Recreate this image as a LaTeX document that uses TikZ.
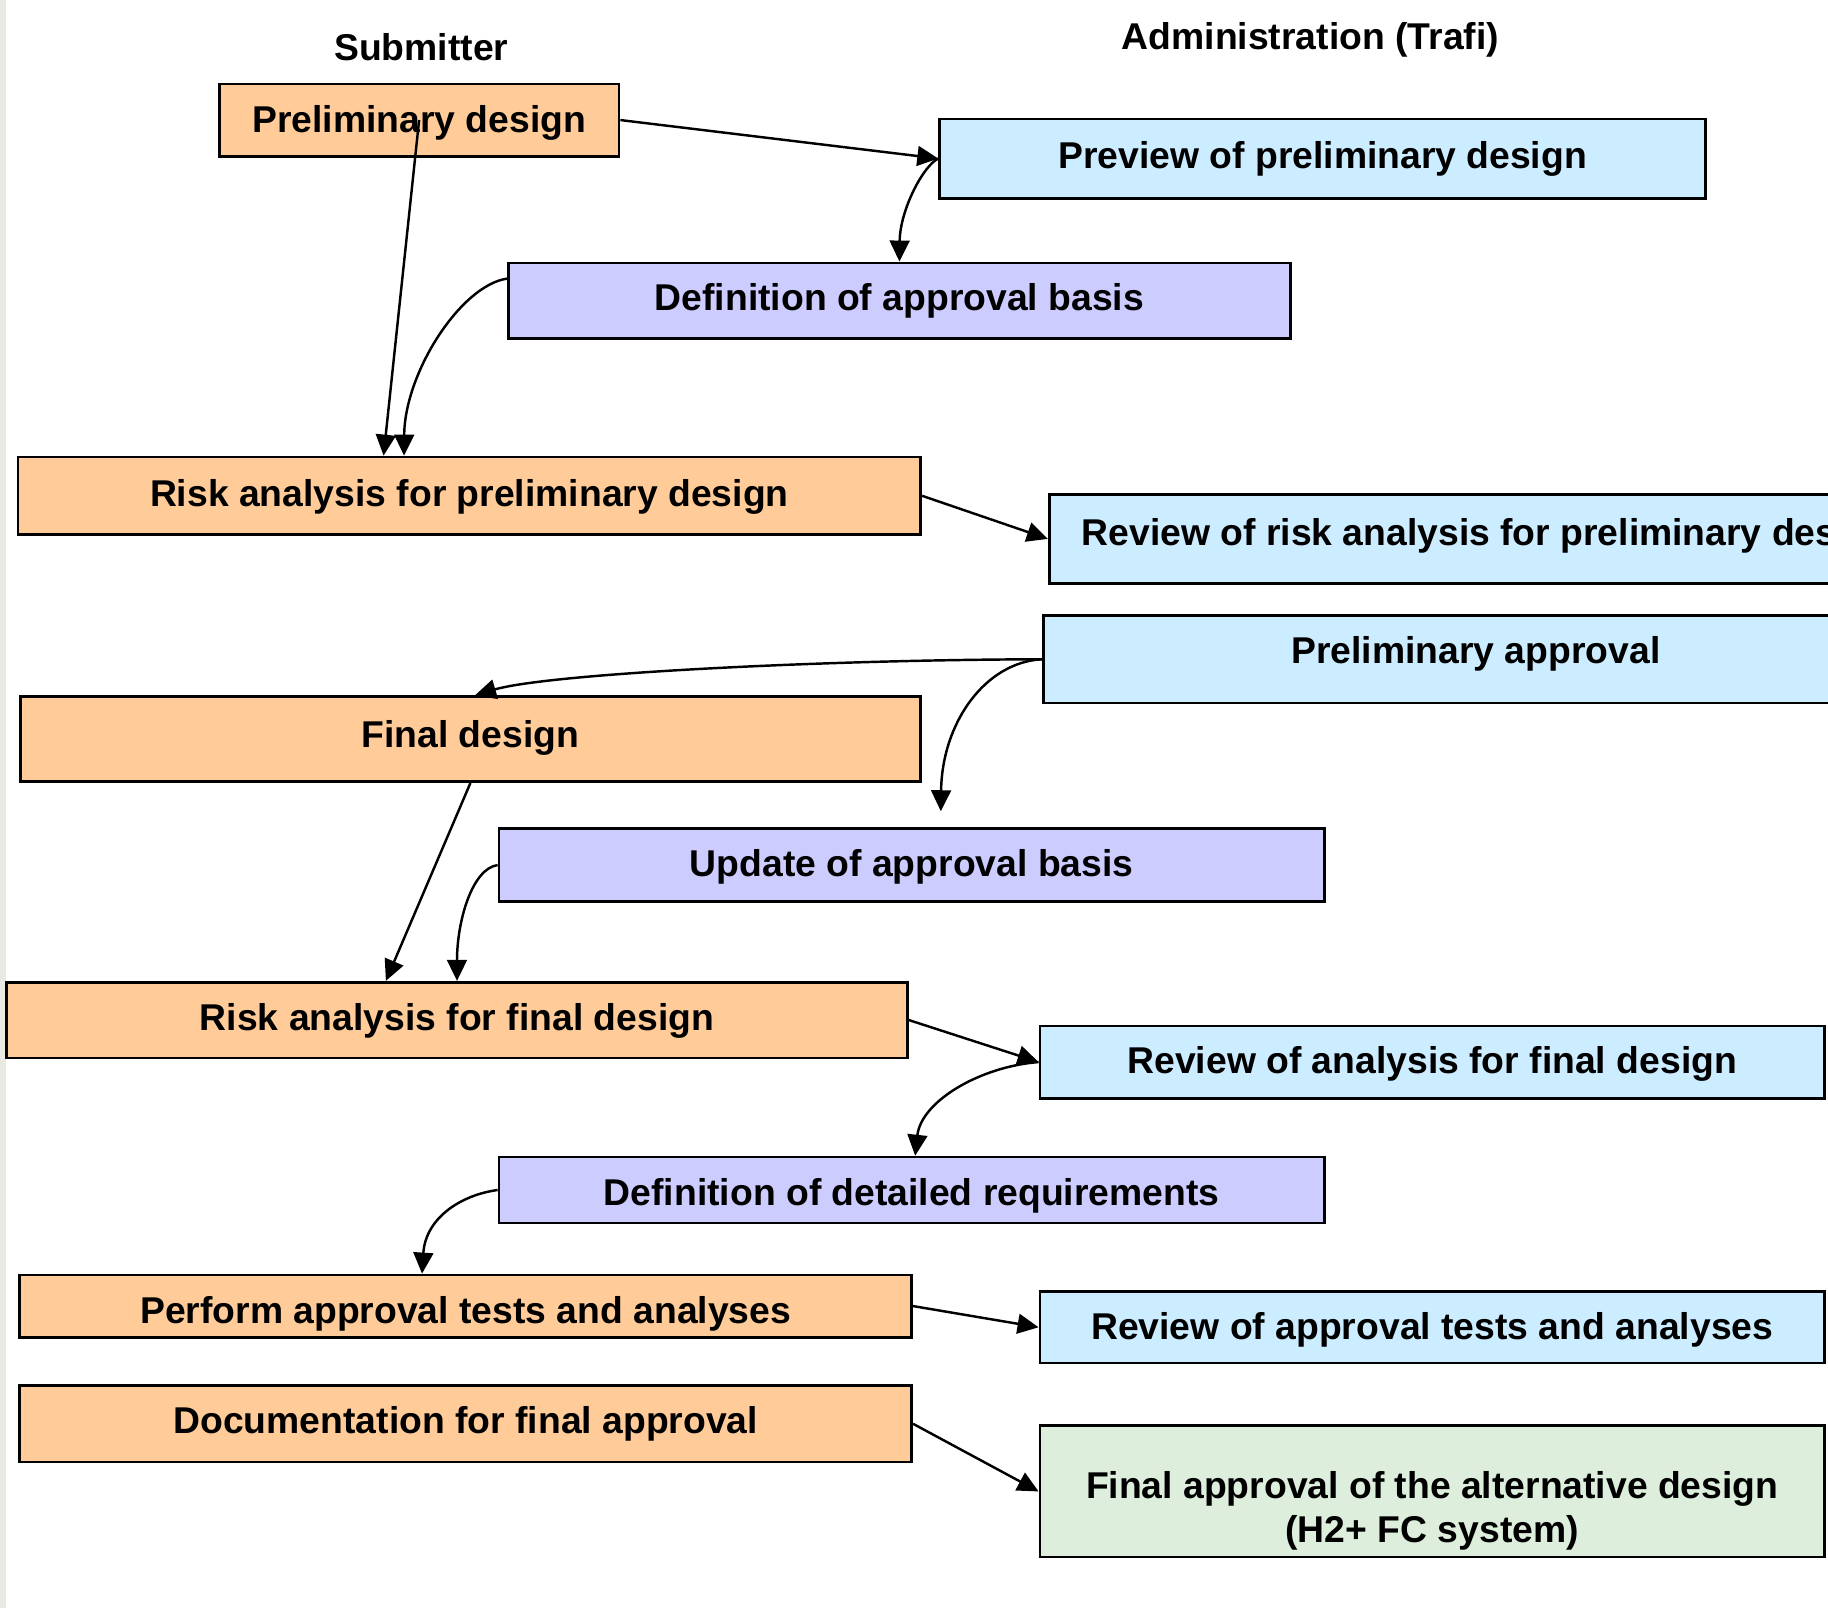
\documentclass[tikz,border=0pt]{standalone}
\usepackage{fontspec}
\setmainfont{Liberation Sans}
\usetikzlibrary{arrows.meta}
\definecolor{peach}{HTML}{FFCC99}
\definecolor{skyfill}{HTML}{CCECFF}
\definecolor{lavender}{HTML}{CCCCFF}
\definecolor{mint}{HTML}{DDEEDD}
\definecolor{edgegrey}{HTML}{E9E9E4}
\begin{document}
\begin{tikzpicture}[x=0.5pt,y=-0.5pt,
  every node/.style={font=\bfseries\fontsize{16}{19}\selectfont},
  box/.style={draw=black, line width=1.15pt, inner sep=2pt, text height=11.46pt},
  submit/.style={box, fill=peach},
  review/.style={box, fill=skyfill},
  basis/.style={box, fill=lavender},
  final/.style={box, fill=mint},
  flow/.style={line width=1.05pt, -{Triangle[length=9pt,width=8.5pt]}},
  head/.style={anchor=base}]

% canvas and clipping frame
\useasboundingbox (0,0) rectangle (1568,1379);
\clip (0,0) rectangle (1568,1379);
\fill[white] (0,0) rectangle (1568,1379);
\fill[edgegrey] (0,0) rectangle (5,1379);

% column headings
\node[head] (hsub) at (361.3,51.5) {Submitter};
\node[head] (hadm) at (1124,42.5) {Administration (Trafi)};

% submitter side
\node[submit, minimum width=171.5pt, minimum height=31pt, text depth=1.1pt] (pd) at (359.5,103) {Preliminary design};
\node[submit, minimum width=387.25pt, minimum height=33.3pt, text depth=2.1pt] (rap) at (402.6,425.3) {Risk analysis for preliminary design};
\node[submit, minimum width=386pt, minimum height=36.5pt, text depth=4.5pt] (fd) at (403.5,634) {Final design};
\node[submit, minimum width=386.5pt, minimum height=32.5pt, text depth=2.2pt] (raf) at (392,875) {Risk analysis for final design};
\node[submit, minimum width=382.5pt, minimum height=26.7pt, text height=14.86pt, text depth=0pt] (pat) at (399.5,1120.3) {Perform approval tests and analyses};
\node[submit, minimum width=382.5pt, minimum height=32.75pt, text depth=3.2pt] (dfa) at (399.5,1221.25) {Documentation for final approval};

% administration side
\node[review, minimum width=328.5pt, minimum height=34pt, text depth=2.6pt] (pv) at (1134.5,136) {Preview of preliminary design};
\node[basis, minimum width=335.5pt, minimum height=32.5pt, text depth=3.2pt] (dab) at (771.5,258) {Definition of approval basis};
\node[review, minimum width=375.5pt, minimum height=38.25pt, text depth=5.75pt] (rrp) at (1275.5,462.25) {Review of risk analysis for preliminary design};
\node[review, minimum width=371pt, minimum height=37.5pt, text depth=7.5pt] (pa) at (1266,565.5) {Preliminary approval};
\node[basis, minimum width=354pt, minimum height=31.5pt, text depth=1.4pt] (uab) at (782,742) {Update of approval basis};
\node[review, minimum width=336.5pt, minimum height=31pt, text depth=1.7pt] (rvf) at (1228.5,911) {Review of analysis for final design};
\node[basis, minimum width=354pt, minimum height=28.25pt, text height=13.46pt, text depth=0pt] (ddr) at (782,1020.75) {Definition of detailed requirements};
\node[review, minimum width=336.5pt, minimum height=30.5pt, text depth=1pt] (rat) at (1228.5,1138.5) {Review of approval tests and analyses};
\node[final, minimum width=336.5pt, minimum height=56.3pt, text depth=5.8pt] (fa) at (1228.5,1279.3)
  {\begin{tabular}[t]{@{}c@{}}Final approval of the alternative design\\(H2+ FC system)\end{tabular}};

% connectors
\draw[flow] (pd.east) -- (pv.west);
\draw[flow] (pv.west) .. controls (792,142) and (772,180) .. (dab.north);
\draw[flow] (pd.center) -- ([xshift=-36.8pt]rap.north);
\draw[flow] ([yshift=9.5pt]dab.west) .. controls (395,245) and (347,320) .. ([xshift=-28pt]rap.north);
\draw[flow] (rap.east) -- (rrp.west);
\draw[flow] (pa.west) .. controls (700,566) and (470,578) .. ([xshift=2pt]fd.north);
\draw[flow] (pa.west) .. controls (845,568) and (808,620) .. ([xshift=12.5pt,yshift=6.75pt]uab.north);
\draw[flow] (fd.south) -- ([xshift=-30.5pt]raf.north);
\draw[flow] (uab.west) .. controls (405,745) and (392,790) .. (raf.north);
\draw[flow] (raf.east) -- (rvf.west);
\draw[flow] (rvf.west) .. controls (840,915) and (790,945) .. ([xshift=1.5pt]ddr.north);
\draw[flow] (ddr.west) .. controls (395,1025) and (365,1045) .. ([xshift=-18.75pt]pat.north);
\draw[flow] (pat.east) -- (rat.west);
\draw[flow] (dfa.east) -- (fa.west);
\end{tikzpicture}
\end{document}
